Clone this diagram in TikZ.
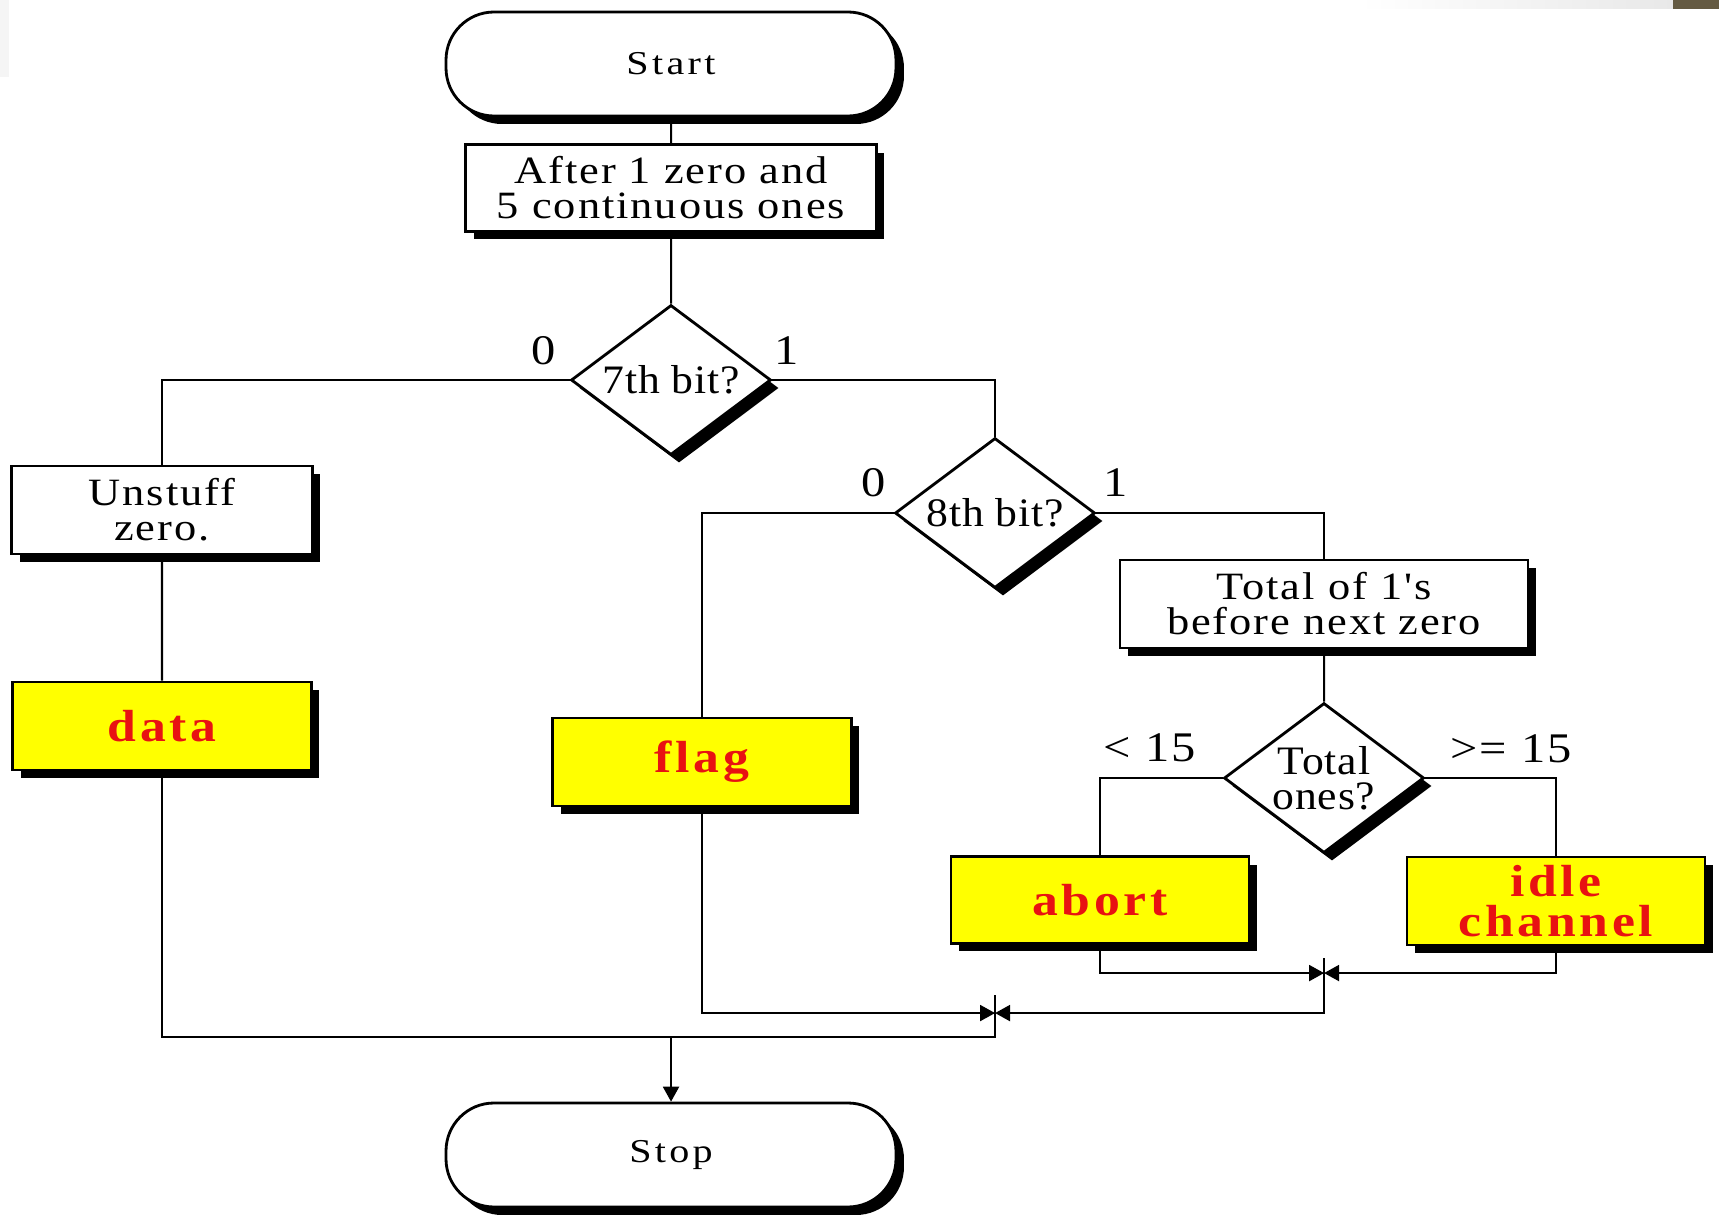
\documentclass[tikz,border=0pt]{standalone}
\usepackage{fontspec}
\setmainfont{Liberation Serif}
\newfontfamily\boxfont[FakeStretch=1.15,LetterSpace=5]{Liberation Serif}
\newfontfamily\redfont[FakeStretch=1.15,LetterSpace=8]{Liberation Serif}
\newfontfamily\endfont[FakeStretch=1.2,LetterSpace=10]{Liberation Serif}
\newfontfamily\askfont[FakeStretch=1.08,LetterSpace=2]{Liberation Serif}
\usetikzlibrary{shapes.geometric,shadows,arrows.meta}
\definecolor{boxyellow}{RGB}{255,255,0}
\definecolor{labelred}{RGB}{232,18,18}
\definecolor{slidebrown}{RGB}{100,90,66}

\tikzset{
  boxshadow/.style={drop shadow={shadow xshift=0.08cm,shadow yshift=-0.08cm,opacity=1,fill=black}},
  terminal/.style={draw,line width=0.8pt,fill=white,rounded corners=0.48cm,boxshadow,
    minimum width=4.5cm,minimum height=1.04cm,font={\endfont\fontsize{9.5}{11}\selectfont}},
  process/.style={draw,line width=0.8pt,fill=white,boxshadow,inner sep=0pt,align=center,
    font={\boxfont\fontsize{11}{10}\selectfont}},
  result/.style={process,fill=boxyellow,text=labelred,
    font={\redfont\bfseries\fontsize{12.8}{11.6}\selectfont}},
  decision/.style={diamond,draw,line width=0.8pt,fill=white,boxshadow,inner sep=0pt,aspect=1.33,
    minimum width=2cm,minimum height=1.5cm,align=center,font={\askfont\fontsize{11.5}{10}\selectfont}},
  branch/.style={inner sep=0pt,font={\boxfont\fontsize{12}{14}\selectfont}},
  link/.style={line width=0.6pt},
  >={Triangle[length=0.15cm,width=0.16cm]}
}

\begin{document}
\begin{tikzpicture}[scale=0.1]
% page and slide edge
\fill[white] (0,0) rectangle (171.9,-121.5);
\useasboundingbox (0,0) rectangle (171.9,-121.5);
\shade[left color=white,right color=black!9] (136,0) rectangle (167.3,-0.9);
\fill[slidebrown] (167.3,0) rectangle (171.9,-0.9);
\fill[black!4] (0,0) rectangle (0.9,-7.7);

% boxes
\node[terminal] (start) at (67.1,-6.4) {Start};
\node[process,minimum width=4.11cm,minimum height=0.87cm] (after) at (67.1,-18.8) {After 1 zero and\\5 continuous ones};
\node[decision] (bit7) at (67.1,-38.0) {7th bit?};
\node[process,minimum width=3.01cm,minimum height=0.88cm] (unstuff) at (16.2,-51.0) {Unstuff\\zero.};
\node[result,minimum width=2.99cm,minimum height=0.88cm] (data) at (16.2,-72.6) {data};
\node[decision] (bit8) at (99.5,-51.3) {8th bit?};
\node[result,minimum width=2.99cm,minimum height=0.88cm] (flag) at (70.2,-76.2) {flag};
\node[process,minimum width=4.08cm,minimum height=0.88cm] (total) at (132.4,-60.4) {Total of 1's\\before next zero};
\node[decision] (ones) at (132.4,-77.8) {Total\\ones?};
\node[result,minimum width=2.98cm,minimum height=0.87cm] (abort) at (110.0,-90.0) {abort};
\node[result,minimum width=2.98cm,minimum height=0.88cm] (idle) at (155.6,-90.1) {idle\\channel};
\node[terminal] (stop) at (67.1,-115.5) {Stop};

% branch labels
\node[branch] (b7zero) at (54.4,-35.1) {0};
\node[branch] (b7one) at (78.7,-35.1) {1};
\node[branch] (b8zero) at (87.4,-48.3) {0};
\node[branch] (b8one) at (111.6,-48.3) {1};
\node[branch] (under15) at (115.0,-74.8) {< 15};
\node[branch] (over15) at (151.1,-74.9) {>= 15};

% joins
\coordinate (joinA) at (99.5,-101.3);
\coordinate (tickA) at (99.5,-99.5);
\coordinate (joinbot) at (99.5,-103.7);
\coordinate (joinB) at (132.4,-97.3);
\coordinate (tickB) at (132.4,-95.8);

\draw[link] (start) -- (after);
\draw[link] (after) -- (bit7);
\draw[link] (bit7.west) -| (unstuff.north);
\draw[link] (bit7.east) -| (bit8.north);
\draw[link] (unstuff) -- (data);
\draw[link] (bit8.west) -| (flag.north);
\draw[link] (bit8.east) -| (total.north);
\draw[link] (total) -- (ones);
\draw[link] (ones.west) -| (abort.north);
\draw[link] (ones.east) -| (idle.north);
\draw[link,->] (abort.south) |- (joinB);
\draw[link,->] (idle.south) |- (joinB);
\draw[link,->] (tickB) |- (joinA);
\draw[link,->] (flag.south) |- (joinA);
\draw[link] (data.south) |- (joinbot) -- (tickA);
\draw[link,->] (stop.north |- joinbot) -- (stop.north);
\end{tikzpicture}
\end{document}
